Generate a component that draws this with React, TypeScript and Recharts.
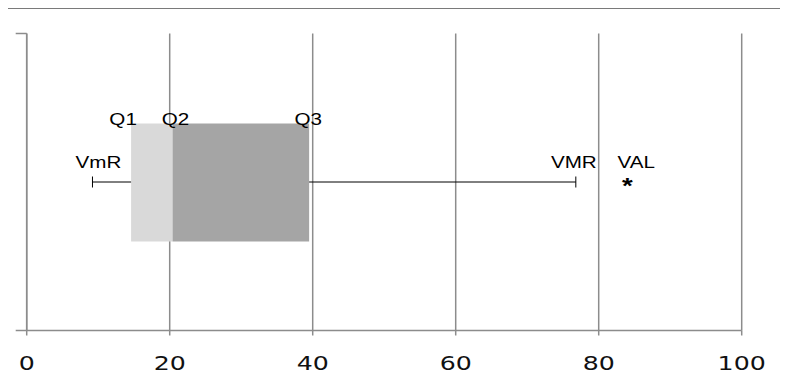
import React from 'react';
import * as R from 'recharts';
import {
  ComposedChart,
  Bar,
  XAxis,
  YAxis,
  CartesianGrid,
  ReferenceLine,
  ReferenceDot,
} from 'recharts';

// ---- data ----
const categories = ['Serie'];
const minRange = [9.2]; // VmR
const q1Values = [14.6];
const q2Values = [20.4];
const q3Values = [39.5];
const maxRange = [76.8]; // VMR
const atypicalValues = [84.0]; // VAL
const xTicks = [0, 20, 40, 60, 80, 100];
const markLabels = { vmr: 'VmR', q1: 'Q1', q2: 'Q2', q3: 'Q3', vMR: 'VMR', val: 'VAL', star: '*' };

const data = categories.map((name, i) => ({
  name,
  base: q1Values[i],
  lowerBox: q2Values[i] - q1Values[i],
  upperBox: q3Values[i] - q2Values[i],
}));

const GRID = '#8c8c8c';
const LABEL_FONT = '"Liberation Sans", Arial, sans-serif';

const Cap = (props: any) => {
  const { cx, cy } = props;
  return <line x1={cx} x2={cx} y1={cy - 5.5} y2={cy + 5.5} stroke="#000" strokeWidth={1} />;
};

const makeText = (text: string, dx: number, dy: number, size = 16.5, sx = 1.25, weight = 'normal') => (props: any) => {
  const { cx, cy } = props;
  return (
    <text
      transform={`translate(${cx + dx},${cy + dy}) scale(${sx},1)`}
      x={0}
      y={0}
      textAnchor="middle"
      fontFamily={LABEL_FONT}
      fontSize={size}
      fontWeight={weight}
      fill="#000"
    >
      {text}
    </text>
  );
};

const XTick = (props: any) => {
  const { x, y, payload } = props;
  return (
    <text
      transform={`translate(${x},${y + 32}) scale(1.33,1)`}
      x={0}
      y={0}
      textAnchor="middle"
      fontFamily='"DejaVu Sans", Verdana, sans-serif'
      fontSize={19}
      fill="#111"
    >
      {payload.value}
    </text>
  );
};

const usePlot: any = (R as any).usePlotArea || (R as any).useOffset || (() => null);

// short tick marks at both ends of the category axis (Excel style)
const FrameTicks = () => {
  const area = usePlot();
  if (!area) return null;
  const x = area.x ?? area.left;
  const top = area.y ?? area.top;
  const h = area.height ?? 0;
  return (
    <g>
      <line x1={x - 11} x2={x} y1={top} y2={top} stroke={GRID} strokeWidth={1.5} />
      <line x1={x - 11} x2={x} y1={top + h} y2={top + h} stroke={GRID} strokeWidth={1.5} />
    </g>
  );
};

export default function App() {
  const cat = categories[0];
  return (
    <div style={{ margin: '-8px 0 0 -8px', position: 'relative', width: 788, height: 386, background: '#fff' }}>
      <div style={{ position: 'absolute', left: 7, top: 7, width: 781, height: 2, background: '#7a7a7a' }} />
      <ComposedChart
        width={788}
        height={386}
        data={data}
        layout="vertical"
        margin={{ top: 33.5, right: 46.3, bottom: 25.5, left: 14.7 }}
      >
        <CartesianGrid horizontal={false} stroke={GRID} strokeWidth={1.5} />
        <XAxis
          type="number"
          domain={[0, 100]}
          ticks={xTicks}
          interval={0}
          tickSize={5}
          height={30}
          axisLine={{ stroke: GRID, strokeWidth: 1.5 }}
          tickLine={{ stroke: GRID, strokeWidth: 1.5 }}
          tick={<XTick />}
        />
        <YAxis
          type="category"
          dataKey="name"
          width={12}
          axisLine={{ stroke: GRID, strokeWidth: 1.5 }}
          tickLine={false}
          tick={false}
        />
        <Bar dataKey="base" stackId="box" fill="transparent" barSize={118} isAnimationActive={false} />
        <Bar dataKey="lowerBox" stackId="box" fill="#d9d9d9" barSize={118} isAnimationActive={false} />
        <Bar dataKey="upperBox" stackId="box" fill="#a5a5a5" barSize={118} isAnimationActive={false} />
        <ReferenceLine
          segment={[{ x: minRange[0], y: cat }, { x: q1Values[0], y: cat }]}
          stroke="#000"
          strokeWidth={1}
        />
        <ReferenceLine
          segment={[{ x: q3Values[0], y: cat }, { x: maxRange[0], y: cat }]}
          stroke="#000"
          strokeWidth={1}
        />
        <ReferenceDot x={minRange[0]} y={cat} shape={Cap} />
        <ReferenceDot x={maxRange[0]} y={cat} shape={Cap} />
        <ReferenceDot x={atypicalValues[0]} y={cat} shape={makeText(markLabels.star, 0, 11, 22, 1.25, 'bold')} />
        <ReferenceDot x={minRange[0]} y={cat} shape={makeText(markLabels.vmr, 6, -14)} />
        <ReferenceDot x={maxRange[0]} y={cat} shape={makeText(markLabels.vMR, -2, -14)} />
        <ReferenceDot x={atypicalValues[0]} y={cat} shape={makeText(markLabels.val, 9, -14)} />
        <ReferenceDot x={q1Values[0]} y={cat} shape={makeText(markLabels.q1, -8, -57)} />
        <ReferenceDot x={q2Values[0]} y={cat} shape={makeText(markLabels.q2, 3, -57)} />
        <ReferenceDot x={q3Values[0]} y={cat} shape={makeText(markLabels.q3, -1, -57)} />
        <FrameTicks />
      </ComposedChart>
    </div>
  );
}
